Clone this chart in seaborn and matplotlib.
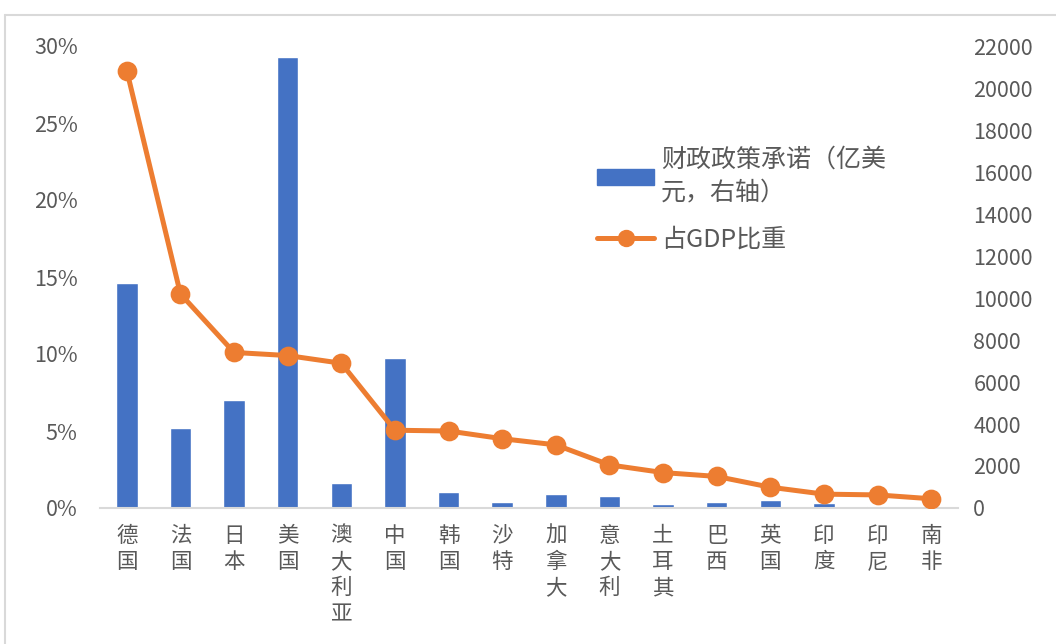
import numpy as np
import matplotlib
matplotlib.use("Agg")
import matplotlib.pyplot as plt
import seaborn as sns
from matplotlib.patches import Patch
from matplotlib.lines import Line2D
from matplotlib.ticker import FuncFormatter

# ── data ─────────────────────────────────────────────────────────────────────
countries = ["德国", "法国", "日本", "美国", "澳大利亚", "中国", "韩国", "沙特",
             "加拿大", "意大利", "土耳其", "巴西", "英国", "印度", "印尼", "南非"]
# 财政政策承诺（亿美元，右轴）
commitment = [10700, 3800, 5150, 21500, 1180, 7160, 780, 300,
              650, 570, 180, 300, 380, 250, 110, 40]
# 占GDP比重（%）
gdp_share = [28.4, 13.9, 10.1, 9.9, 9.4, 5.05, 5.0, 4.5,
             4.1, 2.8, 2.3, 2.05, 1.35, 0.9, 0.85, 0.6]

BLUE = "#4472C4"
ORANGE = "#ED7D31"
GREY = "#595959"

sns.set_theme(style="white")
plt.rcParams['font.family'] = ['Noto Sans CJK SC', 'DejaVu Sans']

fig = plt.figure(figsize=(10.56, 6.44), dpi=100)
ax = fig.add_axes([100 / 1056, 1 - 508 / 644, 858 / 1056, 462 / 644])
ax2 = ax.twinx()

# bars -> right axis
sns.barplot(x=countries, y=commitment, color=BLUE, width=0.4,
            saturation=1, ax=ax)
ax.set_ylim(0, 22000)
ax.set_yticks(np.arange(0, 22001, 2000))

# line -> left axis (drawn on top)
sns.pointplot(x=countries, y=gdp_share, color=ORANGE, ax=ax2,
              linewidth=3.6, markersize=11.5, errorbar=None)
ax2.set_ylim(0, 30)
ax2.set_yticks(np.arange(0, 31, 5))
ax2.yaxis.set_major_formatter(FuncFormatter(lambda v, _: f"{v:.0f}%"))
ax2.set_xlim(-0.5, len(countries) - 0.5)
ax.set_xlim(-0.5, len(countries) - 0.5)

# swap sides: amounts on the right, percentages on the left
ax.yaxis.tick_right()
ax2.yaxis.tick_left()

# axes styling
for a in (ax, ax2):
    for s in a.spines.values():
        s.set_visible(False)
    a.set_xlabel("")
    a.set_ylabel("")
    a.tick_params(axis='y', length=0, labelsize=15.5, labelcolor=GREY)
ax.tick_params(axis='y', pad=11)
ax2.tick_params(axis='y', pad=16)
ax.spines['bottom'].set_visible(True)
ax.spines['bottom'].set_color("#d9d9d9")
ax.spines['bottom'].set_linewidth(1.5)

ax.set_xticks(range(len(countries)))
ax.set_xticklabels(["\n".join(c) for c in countries], fontsize=15.5,
                   color=GREY, va='top', linespacing=1.25)
ax.tick_params(axis='x', length=0, pad=12)
ax2.tick_params(axis='x', which='both', length=0, labelbottom=False)

# legend
handles = [Patch(facecolor=BLUE, edgecolor=BLUE),
           Line2D([0], [0], color=ORANGE, lw=3.6, marker='o', markersize=11.5)]
labels = ["财政政策承诺（亿美\n元，右轴）", "占GDP比重"]
leg = ax2.legend(handles, labels, loc='upper left',
                 bbox_to_anchor=(0.553, 0.83), frameon=False, fontsize=18,
                 handlelength=2.3, handleheight=0.6, labelspacing=0.85,
                 handletextpad=0.25)
for t in leg.get_texts():
    t.set_color(GREY)
    t.set_linespacing(1.3)

# outer frame of the chart area
fig.add_artist(Line2D([5 / 1056, 1.0], [1 - 15 / 644, 1 - 15 / 644],
                      color="#d9d9d9", lw=1.5, transform=fig.transFigure))
fig.add_artist(Line2D([5 / 1056, 5 / 1056], [0, 1 - 15 / 644],
                      color="#d9d9d9", lw=1.5, transform=fig.transFigure))

fig.savefig("out.png", dpi=100, facecolor="white")
